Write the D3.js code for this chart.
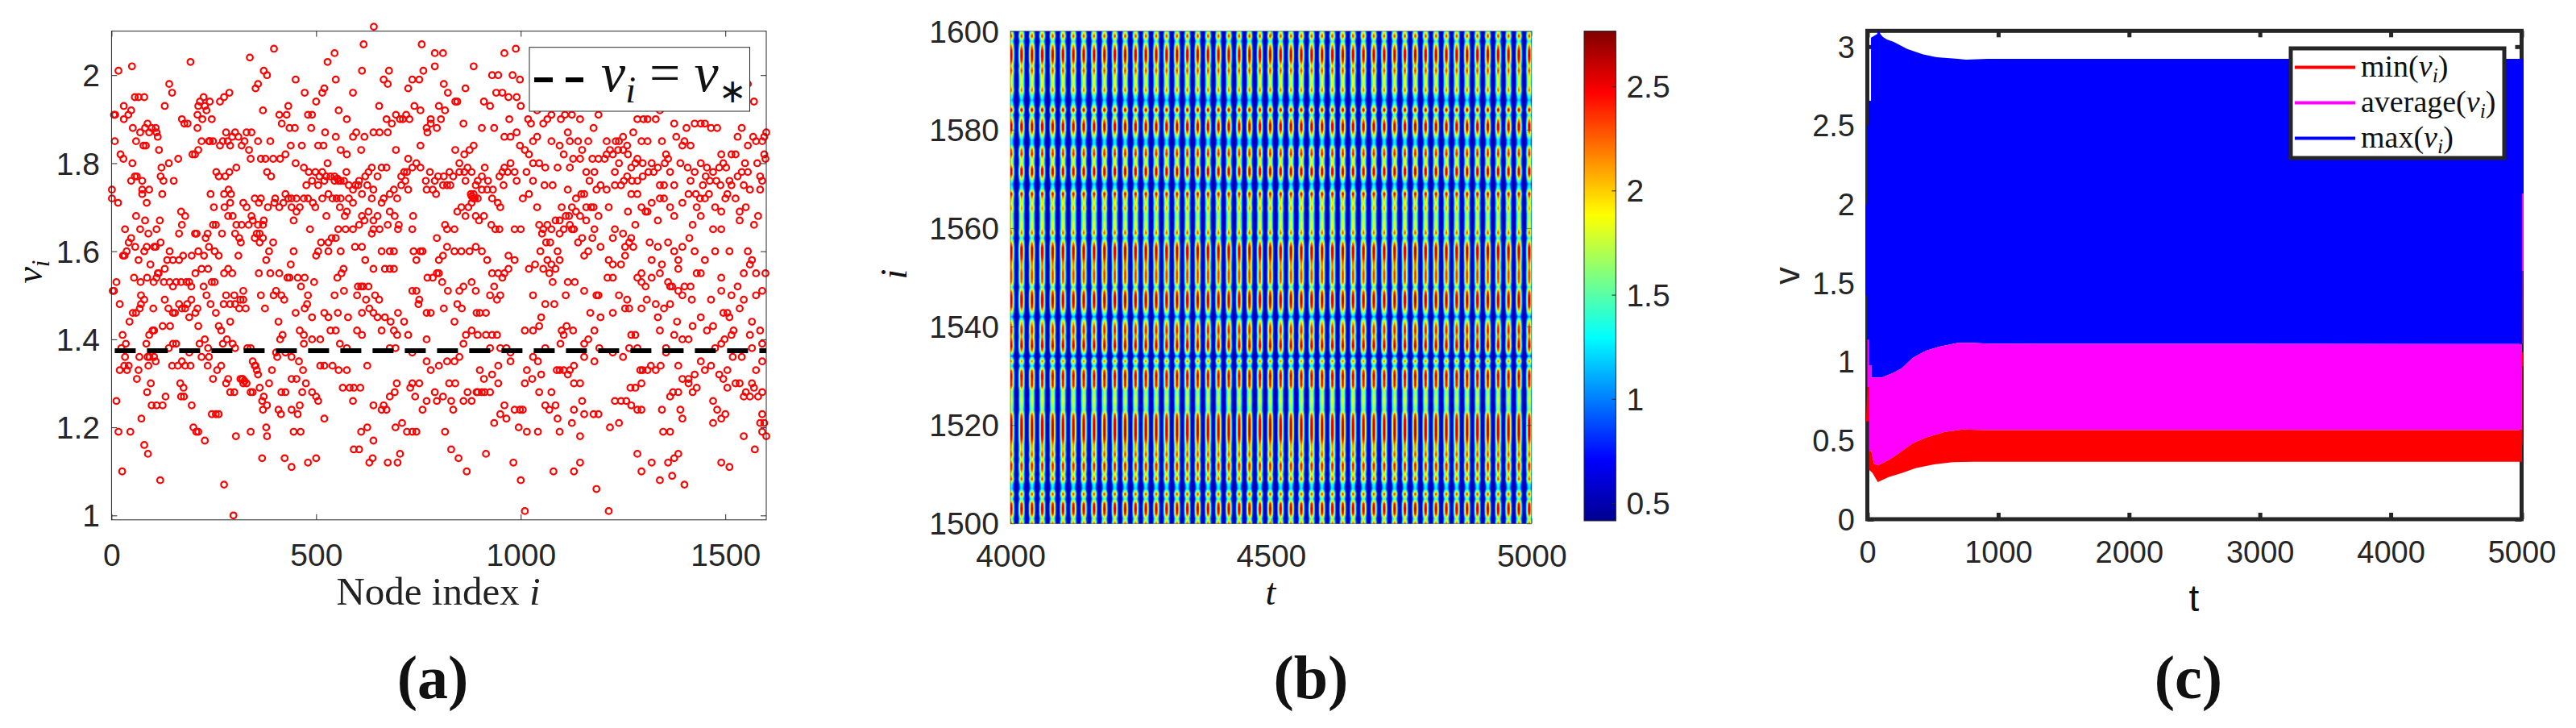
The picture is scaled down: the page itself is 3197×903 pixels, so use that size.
<!DOCTYPE html>
<html><head><meta charset="utf-8">
<style>html,body{margin:0;padding:0;background:#fff}svg{display:block}</style>
<script src="https://cdnjs.cloudflare.com/ajax/libs/d3/7.8.5/d3.min.js"></script>
</head><body><svg id="c" width="3197" height="903"></svg>
<script>
// ---------- Panel (a): node index, value (flat i,v pairs)
const nodePairs = [
1,1.74,1,1.72,6,1.91,9,1.91,8,1.85,17,2.01,50,2.02,16,1.71,22,1.82,29,1.81,30,1.93,30,1.90,41,1.91,48,1.92,57,1.95,66,1.95,80,1.95,51,1.80,48,1.76,57,1.77,62,1.77,52,1.88,70,1.87,82,1.88,88,1.89,92,1.87,98,1.88,78,1.84,60,1.85,12,1.53,3,1.51,6,1.51,20,1.48,12,1.26,17,1.19,26,1.1,46,1.19,33,1.65,42,1.62,48,1.63,58,1.61,32,1.59,28,1.59,37,1.6,55,1.54,66,1.58,71,1.53,72,1.5,72,1.48,80,1.49,69,1.47,60,1.46,52,1.46,44,1.44,35,1.39,27,1.41,24,1.38,20,1.33,31,1.34,33,1.36,42,1.34,38,1.33,62,1.31,66,1.33,68,1.36,73,1.22,85,1.39,92,1.41,88,1.36,93,1.36,100,1.42,90,1.34,96,1.3,87,1.28,80,1.16,89,1.14,98,1.25,95,1.57,87,1.54,86,1.61,90,1.64,82,1.67,86,1.71,75,1.73,75,1.74,75,1.76,92,1.74,84,1.84,
108,1.88,110,1.87,113,1.86,116,1.83,104,1.61,103,1.53,110,1.54,113,1.55,118,1.67,120,1.77,124,1.73,127,1.76,122,1.79,130,1.93,141,1.98,148,1.96,140,1.8,152,1.76,163,1.81,172,1.9,178,1.89,186,1.89,193,2.03,210,1.88,170,1.69,165,1.64,180,1.68,172,1.66,198,1.82,204,1.82,212,1.83,204,1.64,208,1.64,175,1.59,170,1.53,183,1.53,190,1.53,195,1.52,196,1.59,150,1.58,165,1.58,136,1.58,102,1.47,104,1.42,104,1.36,108,1.35,110,1.25,125,1.25,119,1.08,132,1.27,148,1.34,140,1.38,150,1.39,158,1.39,143,1.43,139,1.47,130,1.49,125,1.43,150,1.46,155,1.46,162,1.34,172,1.35,180,1.34,176,1.29,168,1.3,170,1.27,177,1.27,193,1.34,190,1.37,196,1.25,195,1.49,190,1.45,185,1.48,180,1.47,115,1.55,108,1.61,
205,1.46,210,1.47,215,1.39,228,1.4,212,1.43,235,1.34,236,1.38,220,1.36,212,1.19,200,1.2,207,1.19,228,1.17,238,1.36,248,1.31,258,1.33,262,1.23,255,1.23,245,1.23,268,1.34,280,1.3,285,1.31,272,1.39,282,1.4,290,1.44,280,1.5,296,1.39,274,1.48,290,1.48,300,1.28,290,1.28,275,1.07,236,1.56,238,1.61,230,1.63,226,1.59,235,1.64,248,1.66,255,1.66,252,1.6,262,1.59,252,1.53,245,1.53,270,1.64,276,1.7,290,1.71,292,1.73,278,1.77,285,1.68,296,1.68,305,1.66,302,1.64,272,1.85,280,1.87,284,1.85,290,1.84,295,1.86,245,1.9,248,1.85,265,1.94,275,1.95,288,1.96,240,1.94,232,1.92,225,1.95,228,1.93,210,1.91,212,1.93,216,1.94,222,1.9,220,1.85,238,1.85,240,1.85,242,1.73,265,1.84,256,1.78,262,1.77,288,1.78,275,1.73,286,1.74,250,1.7,
302,1.87,310,1.86,318,1.84,325,1.85,336,1.83,340,1.81,305,1.79,322,1.71,330,1.7,342,1.68,358,1.66,350,1.63,372,1.67,362,1.62,370,1.63,385,1.6,378,1.58,395,1.62,388,1.55,396,1.5,312,1.63,316,1.62,310,1.59,318,1.66,300,1.5,302,1.48,315,1.49,322,1.51,322,1.49,312,1.47,328,1.47,302,1.38,332,1.38,340,1.38,345,1.35,352,1.34,355,1.33,380,1.25,345,1.28,370,1.24,368,1.26,385,1.3,392,1.33,362,1.29,372,1.27,340,1.19,378,1.2,380,1.18,368,1.13,304,1.18,298,1.0,315,1.31,320,1.31,322,1.3,340,1.28,330,1.87,342,1.87,352,1.97,358,1.98,370,1.92,372,2.01,380,2.0,397,2.06,338,2.04,358,1.85,350,1.72,360,1.71,365,1.72,380,1.78,390,1.77,400,1.72,376,1.81,395,1.81,388,1.85,365,1.81,
410,1.91,428,1.91,432,1.93,416,1.89,435,1.88,448,1.88,412,1.81,425,1.82,438,1.84,450,1.8,465,1.84,480,1.91,490,1.91,500,1.94,488,1.88,450,1.99,472,1.96,410,1.7,420,1.71,440,1.72,410,1.55,402,1.51,415,1.5,422,1.49,430,1.54,435,1.54,445,1.6,438,1.57,455,1.54,463,1.52,472,1.54,480,1.5,495,1.53,500,1.59,490,1.45,478,1.48,472,1.47,408,1.44,418,1.41,412,1.4,405,1.36,402,1.37,425,1.37,440,1.36,458,1.35,452,1.31,440,1.31,468,1.33,466,1.28,475,1.3,500,1.27,490,1.28,425,1.28,414,1.23,415,1.28,408,1.24,440,1.24,445,1.19,462,1.19,460,1.25,455,1.23,423,1.13,440,1.11,480,1.12,500,1.13,470,1.39,490,1.4,510,1.4,445,1.67,452,1.69,460,1.7,470,1.72,480,1.72,485,1.65,492,1.71,498,1.7,476,1.75,470,1.79,482,1.78,
508,1.77,515,1.72,525,1.68,530,1.62,538,1.63,548,1.63,554,1.65,560,1.6,572,1.65,590,1.65,595,1.61,512,1.62,505,1.6,530,1.6,505,1.84,518,1.84,528,1.8,522,1.87,548,1.86,560,1.83,575,1.82,590,1.86,598,1.87,525,1.77,535,1.77,545,1.77,555,1.76,568,1.76,574,1.78,590,1.74,590,1.71,580,1.72,560,1.72,570,1.68,575,1.69,515,1.96,520,1.97,545,2.05,528,2.03,548,1.99,555,1.92,590,1.96,575,1.9,520,1.76,552,1.54,562,1.55,567,1.56,568,1.51,545,1.5,553,1.46,578,1.45,548,1.42,558,1.39,575,1.38,510,1.34,520,1.34,540,1.34,555,1.33,575,1.33,565,1.29,582,1.29,592,1.29,590,1.26,505,1.26,520,1.22,600,1.5,592,1.15,
602,1.52,612,1.46,608,1.29,605,1.15,638,1.13,610,1.19,625,1.2,630,1.12,640,1.25,665,1.25,640,1.17,660,1.24,672,1.24,694,1.2,680,1.27,692,1.28,697,1.3,612,1.41,640,1.46,650,1.45,668,1.45,682,1.44,690,1.42,698,1.41,694,1.38,680,1.38,675,1.12,699,1.12,625,1.34,615,1.52,628,1.52,630,1.47,622,1.49,644,1.5,654,1.49,668,1.56,680,1.56,690,1.6,680,1.6,690,1.56,660,1.6,620,1.58,612,1.61,640,1.56,636,1.64,655,1.65,640,1.67,618,1.67,612,1.73,625,1.75,640,1.74,650,1.77,660,1.79,672,1.79,680,1.73,690,1.74,698,1.72,700,1.65,692,1.68,680,1.69,660,1.71,650,1.68,636,1.72,605,1.76,618,1.86,610,1.83,640,1.87,655,1.87,675,1.87,695,1.83,612,2.01,616,2.07,641,2.11,654,1.93,665,1.99,675,1.98,678,2.01,672,1.9,685,1.89,695,1.91,
702,1.66,708,1.75,715,1.78,722,1.78,725,1.74,737,1.68,735,1.65,760,1.6,738,1.6,745,1.58,755,1.6,772,1.54,785,1.54,795,1.55,800,1.55,795,1.63,800,1.58,785,1.74,770,1.74,755,1.79,745,1.8,735,1.79,725,1.81,705,1.9,712,1.9,720,1.91,728,1.9,740,1.93,755,1.92,725,1.97,735,1.99,752,1.99,762,2.01,758,2.07,790,2.05,810,2.05,780,1.89,770,1.88,772,1.87,755,1.84,780,1.9,795,1.88,800,1.93,805,1.9,790,2.02,798,1.77,793,1.73,735,1.51,745,1.51,752,1.49,750,1.48,770,1.46,780,1.46,770,1.4,770,1.35,752,1.3,742,1.27,735,1.3,730,1.29,770,1.26,760,1.24,795,1.26,790,1.28,810,1.27,722,1.19,735,1.19,745,1.19,710,1.21,705,1.14,
812,1.98,815,1.92,822,1.96,840,1.94,845,1.94,865,1.97,860,1.89,840,1.83,850,1.8,862,1.82,875,1.83,880,1.78,885,1.84,870,1.79,885,2.02,865,1.76,890,1.75,895,1.76,810,1.75,820,1.75,835,1.77,828,1.75,845,1.69,838,1.65,855,1.7,865,1.68,872,1.7,880,1.71,890,1.68,885,1.73,878,1.73,895,1.72,898,1.67,820,1.65,815,1.66,810,1.59,820,1.61,838,1.6,855,1.6,875,1.6,890,1.61,880,1.53,890,1.51,845,1.48,850,1.51,860,1.52,808,1.53,812,1.47,822,1.51,838,1.44,856,1.47,866,1.41,880,1.42,895,1.41,892,1.46,850,1.36,860,1.39,838,1.35,840,1.3,825,1.3,830,1.26,860,1.26,880,1.26,892,1.28,870,1.28,895,1.28,835,1.24,815,1.19,830,1.15,848,1.13,868,1.1,
905,1.28,912,1.28,925,1.28,935,1.21,950,1.23,960,1.25,965,1.22,985,1.24,998,1.24,945,1.3,930,1.32,925,1.38,915,1.41,930,1.41,942,1.41,950,1.38,965,1.38,975,1.37,975,1.35,900,1.46,915,1.46,925,1.5,935,1.52,950,1.5,942,1.49,955,1.54,970,1.56,985,1.58,970,1.59,960,1.55,905,1.6,918,1.58,930,1.55,945,1.55,910,1.68,928,1.66,938,1.65,948,1.65,985,1.65,1000,1.65,920,1.76,932,1.74,944,1.71,958,1.75,968,1.78,975,1.8,985,1.78,990,1.76,960,1.86,975,1.86,990,1.87,998,1.84,905,1.77,912,1.79,960,1.79,950,1.7,910,1.94,925,1.93,940,1.96,955,1.96,970,1.95,990,1.95,1000,1.93,980,2.0,998,1.99,988,2.06,960,2.05,930,2.0,945,2.0,905,1.88,935,1.88,972,1.9,982,1.12,915,1.14,1000,1.08,995,1.2,
1005,1.24,1015,1.19,1010,1.01,1028,1.31,1045,1.28,1050,1.32,1042,1.35,1060,1.25,1070,1.24,1075,1.28,1085,1.25,1090,1.22,1095,1.19,1088,1.33,1042,1.19,1010,1.42,1030,1.36,1030,1.5,1020,1.56,1035,1.57,1048,1.6,1055,1.56,1065,1.58,1075,1.57,1082,1.48,1078,1.53,1070,1.55,1050,1.45,1090,1.6,1095,1.58,1085,1.56,1020,1.73,1005,1.72,1014,1.78,1030,1.76,1040,1.7,1045,1.66,1055,1.65,1065,1.66,1075,1.65,1085,1.67,1095,1.64,1058,1.75,1078,1.75,1010,1.83,1020,1.82,1030,1.8,1045,1.8,1060,1.79,1075,1.85,1090,1.79,1095,1.84,1018,1.9,1025,1.89,1040,1.92,1055,1.89,1065,1.9,1075,1.91,1090,1.95,1085,1.97,1098,1.9,1040,1.97,1058,2.0,1075,2.02,1080,1.1,1095,1.33,1097,1.39,1060,1.38,
1105,1.41,1112,1.43,1128,1.42,1105,1.33,1115,1.32,1130,1.3,1145,1.3,1150,1.26,1130,1.24,1125,1.21,1155,1.23,1178,1.23,1190,1.23,1145,1.18,1130,1.1,1145,1.12,1185,1.06,1120,1.33,1130,1.34,1155,1.36,1180,1.35,1192,1.38,1155,1.39,1195,1.45,1170,1.46,1155,1.51,1185,1.5,1132,1.53,1115,1.53,1110,1.5,1190,1.5,1155,1.59,1165,1.6,1175,1.63,1195,1.61,1140,1.62,1150,1.63,1180,1.65,1120,1.66,1125,1.65,1110,1.68,1125,1.7,1135,1.69,1145,1.68,1160,1.67,1172,1.7,1100,1.7,1115,1.74,1135,1.72,1155,1.73,1168,1.76,1185,1.74,1195,1.75,1180,1.78,1160,1.78,1120,1.79,1128,1.81,1145,1.81,1150,1.83,1175,1.81,1190,1.81,1165,1.85,1178,1.88,1140,1.85,1120,1.85,1108,1.91,1115,1.87,1125,1.91,1145,1.9,1175,1.94,1190,1.91,1105,1.82,
1205,1.81,1210,1.74,1215,1.7,1230,1.75,1245,1.75,1262,1.69,1270,1.73,1285,1.73,1295,1.7,1280,1.66,1250,1.64,1230,1.65,1225,1.63,1255,1.59,1215,1.58,1225,1.57,1245,1.57,1265,1.62,1270,1.63,1275,1.61,1255,1.61,1285,1.54,1295,1.55,1212,1.54,1225,1.54,1295,1.53,1260,1.49,1265,1.47,1270,1.41,1280,1.41,1285,1.38,1250,1.36,1225,1.37,1265,1.38,1292,1.33,1298,1.33,1268,1.29,1280,1.29,1295,1.3,1230,1.26,1245,1.26,1258,1.26,1270,1.25,1285,1.24,1295,1.24,1240,1.21,1215,1.01,1218,1.2,1285,1.14,1295,1.1,1210,1.82,1225,1.82,1232,1.85,1240,1.85,1250,1.86,1262,1.82,1275,1.87,1230,1.78,1240,1.8,1260,1.77,1270,1.79,1285,1.81,1298,1.8,1252,1.76,1280,1.8,1295,1.85,1220,1.95,1285,1.9,1300,1.9,1270,1.96,
1305,1.69,1310,1.69,1320,1.71,1335,1.67,1350,1.72,1365,1.7,1375,1.68,1395,1.71,1315,1.62,1320,1.58,1335,1.61,1345,1.57,1360,1.62,1375,1.6,1385,1.58,1395,1.61,1385,1.56,1360,1.53,1365,1.52,1340,1.55,1320,1.54,1305,1.52,1308,1.49,1330,1.48,1335,1.45,1370,1.52,1385,1.51,1395,1.5,1400,1.52,1365,1.48,1375,1.41,1382,1.44,1395,1.4,1355,1.38,1342,1.34,1330,1.33,1318,1.34,1310,1.33,1355,1.37,1385,1.34,1372,1.28,1365,1.27,1345,1.24,1348,1.19,1365,1.19,1395,1.31,1385,1.28,1390,1.24,1395,1.22,1320,1.12,1340,1.08,1360,1.12,1375,1.13,1385,1.14,1370,1.09,1400,1.07,1310,1.85,1320,1.8,1335,1.79,1345,1.85,1355,1.82,1365,1.78,1375,1.75,1340,1.75,1350,1.75,1390,1.8,1400,1.85,1360,1.81,1380,1.86,1375,1.89,1395,1.84,1330,1.9,1385,1.96,1340,1.92,1310,1.9,
1405,1.88,1415,1.84,1425,1.89,1440,1.89,1450,1.89,1465,1.88,1480,1.88,1490,1.82,1408,1.79,1425,1.78,1440,1.8,1455,1.79,1470,1.78,1485,1.79,1495,1.8,1410,1.73,1430,1.7,1420,1.66,1440,1.68,1450,1.72,1460,1.73,1475,1.7,1490,1.69,1470,1.65,1490,1.65,1412,1.63,1425,1.6,1440,1.55,1450,1.58,1430,1.55,1415,1.52,1418,1.49,1475,1.6,1490,1.54,1490,1.51,1465,1.49,1495,1.46,1410,1.4,1425,1.32,1440,1.35,1450,1.33,1465,1.34,1475,1.38,1490,1.39,1498,1.4,1410,1.3,1420,1.28,1430,1.29,1485,1.32,1495,1.31,1470,1.26,1480,1.24,1470,1.21,1490,1.22,1410,1.31,1500,1.23,1490,1.12,1510,1.11,
1505,1.46,1510,1.45,1520,1.42,1515,1.41,1535,1.47,1545,1.49,1540,1.36,1518,1.36,1525,1.3,1535,1.3,1550,1.28,1545,1.27,1560,1.27,1565,1.3,1570,1.29,1575,1.33,1505,1.33,1505,1.29,1580,1.27,1590,1.28,1572,1.15,1545,1.18,1585,1.21,1590,1.23,1595,1.21,1600,1.18,1590,1.19,1510,1.6,1505,1.73,1510,1.76,1502,1.79,1515,1.82,1525,1.82,1530,1.86,1540,1.88,1555,1.78,1560,1.74,1570,1.66,1580,1.68,1590,1.76,1595,1.82,1598,1.81,1590,1.85,1600,1.87,1595,1.86,1525,1.72,1535,1.67,1535,1.69,1545,1.75,1550,1.7,1585,1.74,1575,1.85,1555,1.6,1560,1.57,1565,1.58,1575,1.55,1598,1.55,1590,1.51,1575,1.5,1565,1.44,1560,1.41,1585,1.42,1590,1.39,1565,1.38,1590,1.35,1570,1.94,1555,1.98,1510,1.97,
// second pass over the densest clusters
545,1.76,552,1.765,560,1.76,580,1.75,596,1.75,603,1.75,620,1.77,628,1.78,636,1.79,708,1.77,718,1.76,768,1.76,778,1.78,790,1.76,812,1.77,826,1.78,850,1.78,862,1.78,880,1.725,884,1.72,888,1.72,905,1.74,918,1.74,930,1.72,948,1.77,955,1.78,320,1.31,325,1.305,330,1.3,350,1.34,358,1.32,335,1.66,345,1.67,355,1.64,362,1.64,370,1.66,382,1.7,398,1.71,425,1.73,432,1.72,440,1.7,452,1.72,490,1.76,498,1.78,505,1.75,515,1.78,530,1.73,540,1.72,550,1.72,558,1.7,605,1.66,612,1.68,628,1.69,640,1.65,665,1.72,675,1.66,1030,1.85,1040,1.86,1052,1.64,1062,1.62,1072,1.62,1095,1.67,1105,1.65,1118,1.68,1130,1.65,1148,1.73,1160,1.7,1178,1.7,1190,1.68,1210,1.85,1218,1.83,1238,1.83,1250,1.83,1260,1.84,1272,1.76,1285,1.76,1298,1.77,1312,1.78,1325,1.78,1340,1.72,1352,1.8,1415,1.76,1428,1.73,1438,1.72,1445,1.75,1452,1.77,1462,1.76,1478,1.76,1488,1.75,1500,1.72,1515,1.75,1530,1.77,1540,1.78,1548,1.8,1555,1.84,1568,1.86,1578,1.8,1585,1.77,
60,1.68,70,1.65,80,1.6,110,1.65,120,1.62,130,1.56,142,1.6,150,1.52,158,1.53,165,1.48,172,1.47,128,1.53,142,1.53,205,1.55,212,1.6,220,1.56,225,1.52,232,1.5,242,1.48,255,1.46,262,1.43,268,1.42,275,1.55,285,1.56,295,1.55,360,1.55,365,1.5,375,1.47,450,1.46,460,1.42,470,1.41,520,1.46,530,1.45,535,1.42,600,1.42,610,1.52,660,1.42,700,1.46,715,1.44,725,1.41,735,1.37,780,1.33,800,1.34,820,1.35,900,1.33,910,1.31,945,1.34,1010,1.3,1015,1.33,1030,1.42,1045,1.43,1060,1.48,1100,1.42,1165,1.4,1180,1.42,1225,1.46,1240,1.5,1255,1.47,1295,1.47,1340,1.42,1350,1.47,1420,1.43,1440,1.45,1455,1.42,1470,1.43,1515,1.5,1530,1.52,1545,1.55
];
const vStar = 1.374;
const aXTicks = [0,500,1000,1500];
const aYTicks = [1,1.2,1.4,1.6,1.8,2];

// ---------- Panel (b): stripe centres in t, peak value per row (i = 1600 down to 1500), cross-stripe falloff
const stripeTimes = [4001.5,4021.4,4041.3,4061.1,4081,4100.9,4120.8,4140.7,4160.5,4180.4,4200.3,4220.2,4240.1,4259.9,4279.8,4299.7,4319.6,4339.5,4359.3,4379.2,4399.1,4419,4438.9,4458.7,4478.6,4498.5,4518.4,4538.3,4558.1,4578,4597.9,4617.8,4637.7,4657.5,4677.4,4697.3,4717.2,4737.1,4756.9,4776.8,4796.7,4816.6,4836.5,4856.3,4876.2,4896.1,4916,4935.9,4955.7,4975.6,4995.5,5015.4];
const rowPeak = [1.7,2.45,1.5,2.2,2.6,2.65,2.5,2.0,2.4,2.0,1.9,1.9,2.3,1.6,1.2,1.6,2.7,1.5,2.2,2.65,2.6,2.0,1.3,1.3,2.3,2.5,1.9,1.9,2.6,2.6,1.9,1.2,1.5,2.6,2.1,1.9,2.2,1.8,1.8,1.9,1.9,2.35,1.5,2.2,2.65,2.65,2.55,2.3,2.2,2.4,2.4,2.3,1.6,2.4,2.65,2.65,2.5,1.9,1.1,2.0,2.4,2.5,2.2,2.5,2.65,2.2,1.0,2.3,1.3,2.4,2.65,2.5,2.5,1.8,1.8,1.9,1.8,1.7,2.4,2.6,2.65,2.65,2.65,2.5,2.2,2.1,2.4,1.9,2.5,2.4,1.9,2.4,1.4,1.25,2.45,1.5,2.5,2.65,2.5,1.7,2.3];
const stripeOffsets = [0,1,2,3,4,5,6,7];
const stripeFalloff = [1,0.93,0.72,0.46,0.24,0.09,0.02,0];
const valleyValue = 0.45;
const bXTicks = [4000,4500,5000];
const bYTicks = [1500,1520,1540,1560,1580,1600];
const barTicks = [0.5,1,1.5,2,2.5];
const barDomain = [0.415,2.765];
const jetStops = [0,0.125,0.375,0.625,0.875,1];
const jetColors = ["#00008f","#0000ff","#00ffff","#ffff00","#ff0000","#800000"];

// ---------- Panel (c): envelopes as [t, v]
const blueTop = [[-13,2.0],[0,2.0],[0,2.5],[10,2.5],[10,2.656],[28,2.656],[28,3.057],[75,3.08],[85,3.11],[100,3.08],[120,3.06],[150,3.045],[202,3.03],[305,2.985],[427,2.95],[530,2.933],[693,2.922],[755,2.917],[918,2.922],[5015,2.922]];
const blueBottom = [[-13,1.42],[0,1.42],[0,1.14],[13,1.14],[13,0.977],[30,0.977],[30,0.90],[110,0.90],[192,0.926],[264,0.958],[346,1.023],[448,1.07],[550,1.095],[693,1.119],[795,1.12],[927,1.114],[5003,1.112]];
const magentaBottom = [[0,0.84],[13,0.84],[13,0.434],[30,0.434],[50,0.353],[80,0.342],[163,0.375],[245,0.421],[346,0.481],[448,0.518],[591,0.554],[734,0.57],[900,0.566],[5003,0.566]];
const redBottom = [[-10,0.62],[13,0.62],[13,0.314],[40,0.293],[80,0.235],[163,0.268],[264,0.293],[367,0.324],[510,0.348],[653,0.362],[800,0.365],[5003,0.365]];
const edgeStrips = [
  ["#0000ff",5003,5015,2.068,2.922],["#ff00ff",5003,5015,1.576,2.068],["#ff00ff",5003,5006,1.115,1.576],
  ["#ff0000",5003,5015,0.97,1.06],["#ff0000",5003,5006,0.476,0.97]
];
const cXTicks = [0,1000,2000,3000,4000,5000];
const cYTicks = [0,0.5,1,1.5,2,2.5,3];
const cLegendNames = ["min","average","max"];
const cLegendColors = ["#ff0000","#ff00ff","#0000ff"];

// ---------- Drawing
const INK = "#262626", SANS = "'Liberation Sans',Arial,sans-serif", SERIF = "'Liberation Serif',serif";
const svg = d3.select("#c");
svg.append("rect").attr("width",3197).attr("height",903).attr("fill","#fff");

function axes(g,x,y,xt,yt,opt){
  const [x0,x1]=x.range(), [y0,y1]=y.range(), sw=opt.sw, tl=opt.tl;
  const ax=g.append("g").attr("class","ax");
  const mk=(gen,tr)=>{const s=ax.append("g").attr("transform",tr).call(gen);
    s.select(".domain").remove();
    s.selectAll("line").attr("stroke",INK).attr("stroke-width",sw);return s;};
  const bot=mk(d3.axisBottom(x).tickValues(xt).tickSize(-tl).tickFormat(d3.format("d")),`translate(0,${y0})`);
  const lef=mk(d3.axisLeft(y).tickValues(yt).tickSize(-tl).tickFormat(opt.yf||d3.format("")),`translate(${x0},0)`);
  mk(d3.axisTop(x).tickValues(xt).tickSize(-tl).tickFormat(""),`translate(0,${y1})`);
  mk(d3.axisRight(y).tickValues(yt).tickSize(-tl).tickFormat(""),`translate(${x1},0)`);
  bot.selectAll("text").attr("y",opt.xLabelY-y0).attr("dy","0.35em").attr("fill",INK).style("font",`${opt.fs}px ${SANS}`);
  lef.selectAll("text").attr("x",opt.yLabelX-x0).attr("dy","0.35em").attr("fill",INK).style("font",`${opt.fs}px ${SANS}`);
  ax.append("rect").attr("x",x0).attr("y",y1).attr("width",x1-x0).attr("height",y0-y1)
    .attr("fill","none").attr("stroke",INK).attr("stroke-width",sw);
}
function math(g,x,y,parts,fs,anchor,rot){
  const t=g.append("text").attr("x",x).attr("y",y).attr("text-anchor",anchor||"start")
    .attr("fill","#111").style("font-family",SERIF).style("font-size",fs+"px");
  if(rot) t.attr("transform",`rotate(${rot} ${x} ${y})`);
  parts.forEach(p=>{
    const s=t.append("tspan").text(p.t);
    if(p.i) s.style("font-style","italic");
    if(p.sub){s.attr("dy",fs*0.2).style("font-size",(fs*(p.sz||0.68))+"px");}
    if(p.up){s.attr("dy",-fs*0.2);}
  });
  return t;
}
function label(x,y,txt,fs,fam,weight){
  svg.append("text").attr("x",x).attr("y",y).attr("text-anchor","middle").attr("dominant-baseline","central")
    .attr("fill","#111").style("font-family",fam).style("font-size",fs+"px").style("font-weight",weight||"normal").text(txt);
}

// (a)
const ax=d3.scaleLinear().domain([0,1600]).range([138.4,951]);
const ay=d3.scaleLinear().domain([0.99,2.1]).range([644.8,38.6]);
const ga=svg.append("g");
const nodes=d3.range(0,nodePairs.length,2).map(k=>[nodePairs[k],nodePairs[k+1]]);
ga.append("g").selectAll("circle").data(nodes).join("circle")
  .attr("cx",d=>ax(d[0])).attr("cy",d=>ay(d[1])).attr("r",3.8)
  .attr("fill","none").attr("stroke","#ff0000").attr("stroke-width",2.2);
axes(ga,ax,ay,aXTicks,aYTicks,{sw:1,tl:7,fs:39,xLabelY:688,yLabelX:124});
ga.append("line").attr("x1",ax(0)).attr("x2",ax(1600)).attr("y1",ay(vStar)).attr("y2",ay(vStar))
  .attr("stroke","#000").attr("stroke-width",6).attr("stroke-dasharray","26 14").attr("stroke-dashoffset",-4);
ga.append("rect").attr("x",657).attr("y",58.7).attr("width",273.5).attr("height",79.3).attr("fill","#fff").attr("stroke",INK).attr("stroke-width",1);
ga.append("line").attr("x1",663).attr("x2",724).attr("y1",99).attr("y2",99).attr("stroke","#000").attr("stroke-width",6).attr("stroke-dasharray","23 16");
math(ga,746,113,[{t:"v",i:1},{t:"i",i:1,sub:1},{t:" = ",up:1},{t:"v",i:1},{t:"∗",sub:1,sz:0.6}],68);
const nl=svg.append("text").attr("x",544).attr("y",750).attr("text-anchor","middle").attr("fill","#222").style("font-family",SERIF).style("font-size","49px");
nl.append("tspan").text("Node index ");nl.append("tspan").style("font-style","italic").text("i");
math(svg,52,337,[{t:"v",i:1},{t:"i",i:1,sub:1}],46,"middle",-90);

// (b)
const bx=d3.scaleLinear().domain([4000,5000]).range([1254,1900.8]);
const by=d3.scaleLinear().domain([1500,1600]).range([649.3,38.7]);
const jet=d3.scaleLinear().domain(jetStops.map(f=>barDomain[0]+f*(barDomain[1]-barDomain[0]))).range(jetColors).clamp(true);
const fall=d3.scaleLinear().domain(stripeOffsets).range(stripeFalloff).clamp(true);
const rowPos=d3.scaleLinear().domain([1600,1500]).range([0,rowPeak.length-1]);
const W=Math.round(bx.range()[1]-bx.range()[0]), H=Math.round(by.range()[0]-by.range()[1]);
const cv=document.createElement("canvas");cv.width=W;cv.height=H;
const ctx=cv.getContext("2d"), im=ctx.createImageData(W,H);
for(let py=0;py<H;py++){
  const r=rowPos(by.invert(by.range()[1]+py+0.5)), r0=Math.floor(r), r1=Math.min(rowPeak.length-1,r0+1);
  const peak=d3.interpolateNumber(rowPeak[r0],rowPeak[r1])(r-r0);
  for(let px=0;px<W;px++){
    const xx=bx.range()[0]+px+0.5, tt=bx.invert(xx), c=stripeTimes[d3.bisectCenter(stripeTimes,tt)];
    const val=valleyValue+(peak-valleyValue)*fall(Math.abs(xx-bx(c)));
    const col=d3.rgb(jet(val)), o=(py*W+px)*4;
    im.data[o]=col.r;im.data[o+1]=col.g;im.data[o+2]=col.b;im.data[o+3]=255;
  }
}
ctx.putImageData(im,0,0);
const gb=svg.append("g");
gb.append("image").attr("x",bx.range()[0]).attr("y",by.range()[1]).attr("width",W).attr("height",H).attr("href",cv.toDataURL());
axes(gb,bx,by,bXTicks,bYTicks,{sw:1,tl:6,fs:39,xLabelY:689,yLabelX:1240,yf:d3.format("d")});
gb.selectAll(".ax line").attr("stroke-opacity",0.5);
gb.selectAll(".ax rect").attr("stroke-opacity",0.5);
math(svg,1125,340,[{t:"i",i:1}],46,"middle",-90);
math(svg,1577,750,[{t:"t",i:1}],46,"middle");
// colour bar
const barY=d3.scaleLinear().domain(barDomain).range([646,38.6]);
const defs=svg.append("defs");
const grad=defs.append("linearGradient").attr("id","jetg").attr("x1",0).attr("x2",0).attr("y1",1).attr("y2",0);
grad.selectAll("stop").data(jetStops).join("stop").attr("offset",d=>d).attr("stop-color",(d,k)=>jetColors[k]);
const gc=svg.append("g");
gc.append("rect").attr("x",1966).attr("y",38.6).attr("width",39.4).attr("height",607.4).attr("fill","url(#jetg)").attr("stroke",INK).attr("stroke-width",1);
const barAxis=gc.append("g").attr("transform","translate(2005.4,0)").call(d3.axisRight(barY).tickValues(barTicks).tickSize(-5).tickFormat(d3.format("")));
barAxis.select(".domain").remove();
barAxis.selectAll("line").attr("stroke",INK);
barAxis.selectAll("text").attr("x",13).attr("dy","0.35em").attr("fill",INK).style("font",`39px ${SANS}`);

// (c)
const cx=d3.scaleLinear().domain([0,5000]).range([2317.5,3129.5]);
const cy=d3.scaleLinear().domain([0,3.1]).range([644,38.3]);
const gp=svg.append("g");
axes(gp,cx,cy,cXTicks,cYTicks,{sw:5,tl:8,fs:38,xLabelY:685,yLabelX:2302,yf:d3.format("")});
const line=d3.line().x(d=>cx(d[0])).y(d=>cy(d[1]));
const band=(top,bot,color)=>gp.append("path").attr("d",line(top.concat(bot.slice().reverse()))+"Z").attr("fill",color);
band(blueTop,blueBottom,"#0000ff");
band(blueBottom.filter(d=>d[0]>=0),magentaBottom,"#ff00ff");
band(magentaBottom,redBottom,"#ff0000");
gp.selectAll("rect.edge").data(edgeStrips).join("rect").attr("class","edge")
  .attr("x",d=>cx(d[1])).attr("width",d=>cx(d[2])-cx(d[1])).attr("y",d=>cy(d[4])).attr("height",d=>cy(d[3])-cy(d[4])).attr("fill",d=>d[0]);
gp.append("rect").attr("x",2843).attr("y",60).attr("width",265).attr("height",136).attr("fill","#fff").attr("stroke",INK).attr("stroke-width",5);
const legY=[83.5,127.5,171.5];
cLegendNames.forEach((n,k)=>{
  gp.append("line").attr("x1",2848).attr("x2",2923).attr("y1",legY[k]).attr("y2",legY[k]).attr("stroke",cLegendColors[k]).attr("stroke-width",4);
  math(gp,2930,legY[k]+11,[{t:n+"("},{t:"v",i:1},{t:"i",i:1,sub:1},{t:")",up:1}],38);
});
label(2723,742,"t",46,SANS);
svg.append("text").attr("transform","translate(2217,342) rotate(-90)").attr("text-anchor","middle").attr("dominant-baseline","central")
  .attr("fill",INK).style("font",`44px ${SANS}`).text("v");

// sub-figure labels
label(537,840,"(a)",76,SERIF,"bold");
label(1627,840,"(b)",76,SERIF,"bold");
label(2716,840,"(c)",76,SERIF,"bold");
</script></body></html>
